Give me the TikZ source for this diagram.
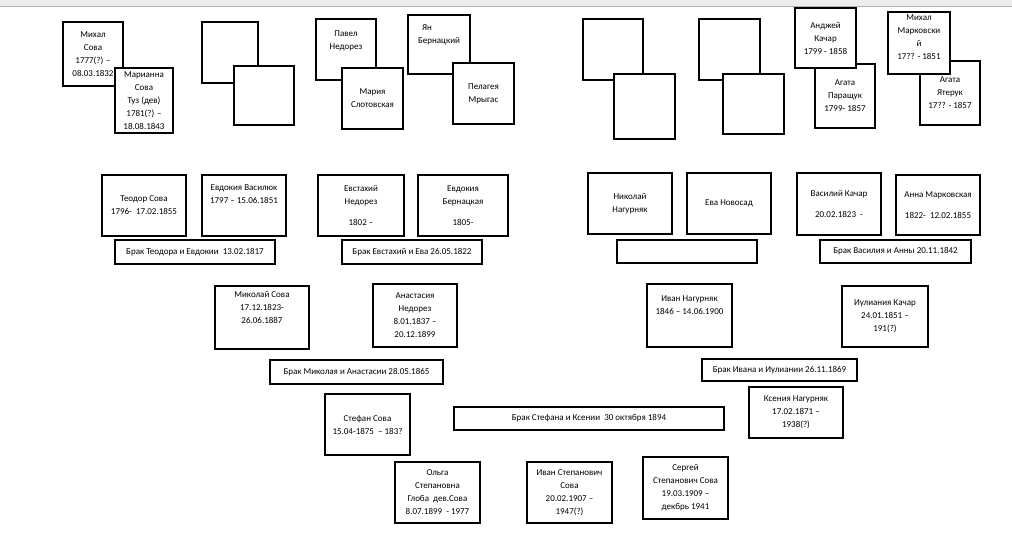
\documentclass[tikz,border=0pt]{standalone}
\usepackage{fontspec}
\setmainfont{Carlito}
\begin{document}
\begin{tikzpicture}[x=1pt,y=-1pt,
  box/.style={draw,line width=1.6pt,fill=white,align=center,inner sep=1pt,
    font=\fontsize{9}{13}\selectfont}]
\newcommand\bx[6]{\node[box,minimum width={#4pt-#2pt},minimum height={#5pt-#3pt}] (#1) at ({(#2+#4)/2},{(#3+#5)/2}) {#6};}
\useasboundingbox[fill=white] (0,0) rectangle (1012,546);
\fill[gray!15] (0,0) rectangle (1012,6);
\draw[gray!60] (0,6) -- (1012,6);
% top generation
\bx{a1}{63}{22}{123}{86}{Михал\\Сова\\1777(?) –\\08.03.1832}
\bx{a2}{115}{68}{173}{133}{Марианна\\Сова\\Туз (дев)\\1781(?) –\\18.08.1843}
\bx{b1}{202}{22}{258}{83}{}
\bx{b2}{234}{66}{294}{125}{}
\bx{c1}{316}{19}{376}{80}{Павел\\Недорез\\[6pt]}
\bx{c2}{342}{68}{403}{129}{Мария\\Слотовская}
\bx{d1}{408}{15}{470}{74}{Ян\hspace*{24pt}\\Бернацкий\\[8pt]}
\bx{d2}{453}{63}{514}{124}{Пелагея\\Мрыгас}
\bx{e1}{583}{19}{643}{80}{}
\bx{e2}{614}{74}{675}{139}{}
\bx{f1}{699}{19}{760}{80}{}
\bx{f2}{723}{74}{784}{134}{}
\bx{g2}{815}{64}{875}{128}{Агата\\Паращук\\1799- 1857}
\bx{g1}{795}{8}{856}{68}{Анджей\\Качар\\1799 - 1858}
\bx{h2}{920}{61}{980}{125}{Агата\\Ятерук\\17?? - 1857}
\bx{h1}{888}{12}{950}{74}{Михал\\Марковски\\й\\17?? - 1851\\[-2pt]}
% second generation
\bx{t}{102}{175}{186}{236}{Теодор Сова\\1796-\ \ 17.02.1855}
\bx{ev}{202}{175}{286}{236}{Евдокия Василюк\\1797 – 15.06.1851\\[10pt]}
\bx{mt}{115}{240}{275}{264}{Брак Теодора и Евдокии\ \ 13.02.1817}
\bx{es}{318}{175}{404}{236}{Евстахий\\Недорез\\[8pt]1802 –}
\bx{eb}{418}{175}{508}{236}{Евдокия\\Бернацкая\\[8pt]1805-}
\bx{me}{342}{240}{482}{264}{Брак Евстахий и Ева 26.05.1822}
\bx{nn}{588}{173}{672}{234}{Николай\\Нагурняк}
\bx{en}{687}{173}{771}{234}{Ева Новосад}
\bx{mn}{617}{240}{757}{263}{}
\bx{vk}{797}{173}{881}{235}{Василий Качар\\[8pt]20.02.1823\ \ -}
\bx{am}{896}{175}{980}{235}{Анна Марковская\\[8pt]1822-\ \ 12.02.1855}
\bx{mv}{820}{240}{971}{263}{Брак Василия и Анны 20.11.1842}
% third generation
\bx{ms}{215}{286}{309}{349}{Миколай Сова\\17.12.1823-\\26.06.1887\\[8pt]}
\bx{an}{373}{284}{457}{347}{Анастасия\\Недорез\\8.01.1837 –\\20.12.1899}
\bx{in}{647}{284}{732}{347}{Иван Нагурняк\\1846 – 14.06.1900\\[8pt]}
\bx{ik}{842}{286}{928}{347}{Иулиания Качар\\24.01.1851 –\\191(?)}
\bx{mm}{270}{360}{443}{384}{Брак Миколая и Анастасии 28.05.1865}
\bx{mi}{702}{359}{857}{381}{Брак Ивана и Иулиании 26.11.1869}
% fourth
\bx{ss}{325}{394}{410}{455}{Стефан Сова\\15.04-1875\ \ – 183?}
\bx{msk}{454}{407}{724}{430}{Брак Стефана и Ксении\ \ 30 октября 1894}
\bx{kn}{749}{387}{843}{438}{Ксения Нагурняк\\17.02.1871 –\\1938(?)}
% fifth
\bx{os}{395}{462}{480}{523}{Ольга\\Степановна\\Глоба\ \ дев.Сова\\8.07.1899\ \ - 1977}
\bx{is}{527}{462}{612}{523}{Иван Степанович\\Сова\\20.02.1907 –\\1947(?)}
\bx{sg}{643}{457}{728}{519}{Сергей\\Степанович Сова\\19.03.1909 –\\декбрь 1941}
\end{tikzpicture}
\end{document}
